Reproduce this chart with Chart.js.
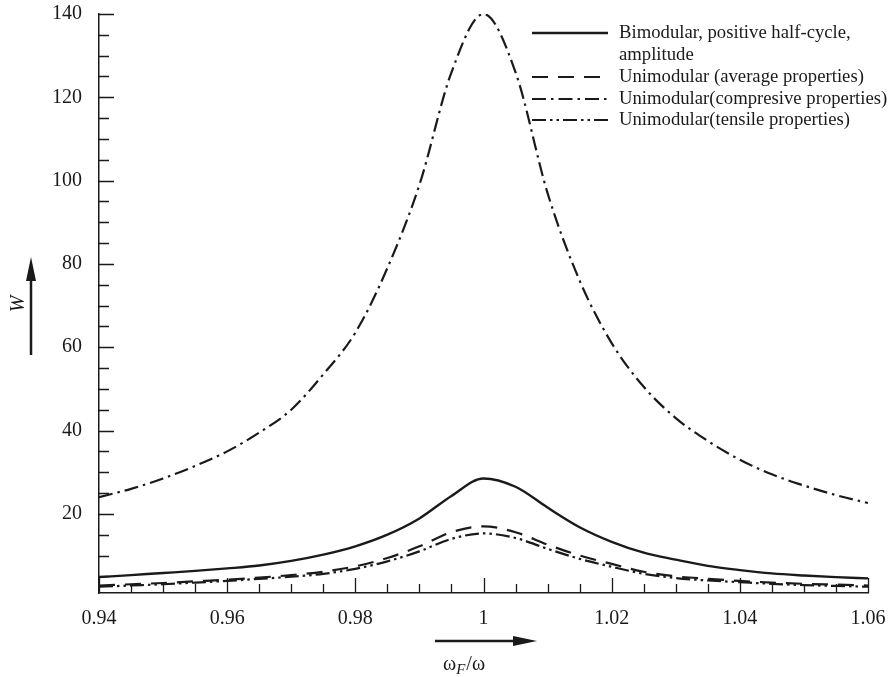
<!DOCTYPE html>
<html>
<head>
<meta charset="utf-8">
<script src="https://cdn.jsdelivr.net/npm/chart.js"></script>
<style>
  html, body { margin: 0; padding: 0; background: #fff; }
  #wrap { width: 893px; height: 677px; }
</style>
</head>
<body>
<div id="wrap"><canvas id="chart" width="893" height="677"></canvas></div>
<script>
// frequency ratio wF/w
const xValues = [0.94, 0.945, 0.95, 0.955, 0.96, 0.965, 0.97, 0.975, 0.98, 0.985, 0.99, 0.995,
                 1.0, 1.005, 1.01, 1.015, 1.02, 1.025, 1.03, 1.035, 1.04, 1.045, 1.05, 1.055, 1.06];

// amplitude W
const bimodular   = [4.8, 5.3, 5.8, 6.3, 6.9, 7.6, 8.7, 10.2, 12.2, 15, 18.9, 24.3,
                     28.5, 26.5, 21.5, 16.8, 13.3, 10.7, 9, 7.5, 6.5, 5.7, 5.2, 4.8, 4.5];
const average     = [2.8, 3.1, 3.4, 3.8, 4.2, 4.7, 5.3, 6.1, 7.4, 9.4, 12.2, 15.6,
                     17, 15.6, 12.6, 10, 8, 6.1, 5, 4.4, 3.9, 3.5, 3.2, 3.0, 2.8];
const compressive = [24, 26, 28.5, 31.5, 35, 39.5, 45, 53.5, 63.5, 79, 99, 126,
                     140, 126, 97, 76, 61, 50.5, 43, 37.5, 33, 29.5, 26.8, 24.5, 22.6];
const tensile     = [2.5, 2.8, 3.1, 3.5, 3.9, 4.4, 4.9, 5.6, 6.8, 8.6, 11, 14,
                     15.3, 14.2, 11.6, 9.2, 7.3, 5.6, 4.6, 4.0, 3.6, 3.2, 2.9, 2.7, 2.5];

const xTickLabels = ['0.94', '0.96', '0.98', '1', '1.02', '1.04', '1.06'];
const yTickLabels = ['20', '40', '60', '80', '100', '120', '140'];

const seriesNames = [
  ['Bimodular, positive half-cycle,', 'amplitude'],
  ['Unimodular (average properties)'],
  ['Unimodular(compresive properties)'],
  ['Unimodular(tensile properties)']
];

const INK = '#1a1a1a';
const SERIF = '"Liberation Serif", "DejaVu Serif", serif';

function pts(ys) {
  return xValues.map((x, i) => ({ x: x, y: ys[i] }));
}

function ds(label, ys, dash, width) {
  return {
    label: label,
    data: pts(ys),
    borderColor: INK,
    borderWidth: width,
    borderDash: dash,
    pointRadius: 0,
    fill: false,
    cubicInterpolationMode: 'monotone'
  };
}

// ticks point into the plot, major + minor
const inwardTicks = {
  id: 'inwardTicks',
  afterDatasetsDraw(chart) {
    const { ctx, chartArea: a, scales: { x, y } } = chart;
    ctx.save();
    ctx.strokeStyle = INK;
    ctx.lineWidth = 1.3;
    ctx.beginPath();
    for (let i = 0; i <= 24; i++) {
      const px = Math.round(x.getPixelForValue(0.94 + i * 0.005)) + 0.5;
      const len = i % 4 === 0 ? 15 : 9;
      ctx.moveTo(px, a.bottom);
      ctx.lineTo(px, a.bottom - len);
    }
    for (let v = 5; v <= 140; v += 5) {
      const py = Math.round(y.getPixelForValue(v)) + 0.5;
      const len = v % 20 === 0 ? 15 : 10;
      ctx.moveTo(a.left, py);
      ctx.lineTo(a.left + len, py);
    }
    ctx.stroke();
    ctx.restore();
  }
};

function arrowHead(ctx, tipX, tipY, dir) {
  // dir: 'up' or 'right'
  ctx.beginPath();
  if (dir === 'up') {
    ctx.moveTo(tipX, tipY);
    ctx.lineTo(tipX - 5, tipY + 24);
    ctx.lineTo(tipX + 5, tipY + 24);
  } else {
    ctx.moveTo(tipX, tipY);
    ctx.lineTo(tipX - 24, tipY - 5);
    ctx.lineTo(tipX - 24, tipY + 5);
  }
  ctx.closePath();
  ctx.fill();
}

// axis titles with arrows, and the legend
const decorations = {
  id: 'decorations',
  afterDraw(chart) {
    const ctx = chart.ctx;
    ctx.save();
    ctx.fillStyle = INK;
    ctx.strokeStyle = INK;

    // y arrow + W
    ctx.lineWidth = 2.5;
    ctx.beginPath();
    ctx.moveTo(31, 355);
    ctx.lineTo(31, 275);
    ctx.stroke();
    arrowHead(ctx, 31, 257, 'up');
    ctx.save();
    ctx.translate(19, 304);
    ctx.rotate(-Math.PI / 2);
    ctx.font = 'italic 20px ' + SERIF;
    ctx.textAlign = 'center';
    ctx.textBaseline = 'middle';
    ctx.fillText('W', 0, 0);
    ctx.restore();

    // x arrow + wF/w
    ctx.beginPath();
    ctx.moveTo(435, 641);
    ctx.lineTo(515, 641);
    ctx.stroke();
    arrowHead(ctx, 537, 641, 'right');
    ctx.textBaseline = 'alphabetic';
    ctx.textAlign = 'left';
    const base = 670;
    let cx = 443;
    ctx.font = '20px ' + SERIF;
    ctx.fillText('\u03c9', cx, base);
    cx += ctx.measureText('\u03c9').width;
    ctx.font = 'italic 15px ' + SERIF;
    ctx.fillText('F', cx, base + 4);
    cx += ctx.measureText('F').width + 1;
    ctx.font = '20px ' + SERIF;
    ctx.fillText('/\u03c9', cx, base);

    // legend
    const rows = [33, 77, 99, 120];
    const x0 = 532, x1 = 608, tx = 619;
    chart.data.datasets.forEach((d, i) => {
      const yy = rows[i];
      ctx.lineWidth = d.borderWidth;
      ctx.setLineDash(d.borderDash || []);
      ctx.beginPath();
      ctx.moveTo(x0, yy);
      ctx.lineTo(x1, yy);
      ctx.stroke();
      ctx.setLineDash([]);
      ctx.font = '18.7px ' + SERIF;
      ctx.textBaseline = 'middle';
      seriesNames[i].forEach((t, k) => ctx.fillText(t, tx, yy + k * 22));
    });
    ctx.restore();
  }
};

new Chart(document.getElementById('chart'), {
  type: 'line',
  data: {
    datasets: [
      ds(seriesNames[0].join(' '), bimodular, [], 2.4),
      ds(seriesNames[1][0], average, [16, 10], 2.2),
      ds(seriesNames[2][0], compressive, [14, 5, 2.5, 5], 2.2),
      ds(seriesNames[3][0], tensile, [14, 4, 2.5, 4, 2.5, 4], 2.2)
    ]
  },
  options: {
    responsive: false,
    animation: false,
    layout: { padding: { top: 14, right: 25, left: 0, bottom: 0 } },
    plugins: { legend: { display: false }, tooltip: { enabled: false } },
    scales: {
      x: {
        type: 'linear',
        min: 0.94,
        max: 1.06,
        afterFit(s) { s.height = 84; s.paddingLeft = 0; s.paddingRight = 0; },
        afterBuildTicks(s) { s.ticks = xTickLabels.map(t => ({ value: parseFloat(t) })); },
        ticks: {
          color: INK,
          font: { family: SERIF, size: 20 },
          padding: 14,
          callback: (v) => xTickLabels.find(t => Math.abs(parseFloat(t) - v) < 1e-9) || ''
        },
        grid: { display: true, drawOnChartArea: false, drawTicks: false },
        border: { display: true, color: INK, width: 1.5 }
      },
      y: {
        type: 'linear',
        min: 1,
        max: 140,
        afterFit(s) { s.width = 99; s.paddingTop = 0; s.paddingBottom = 0; },
        afterBuildTicks(s) { s.ticks = yTickLabels.map(t => ({ value: parseFloat(t) })); },
        ticks: {
          color: INK,
          font: { family: SERIF, size: 20 },
          padding: 17,
          callback: (v) => String(v)
        },
        grid: { display: true, drawOnChartArea: false, drawTicks: false },
        border: { display: true, color: INK, width: 1.5 }
      }
    }
  },
  plugins: [inwardTicks, decorations]
});
</script>
</body>
</html>
